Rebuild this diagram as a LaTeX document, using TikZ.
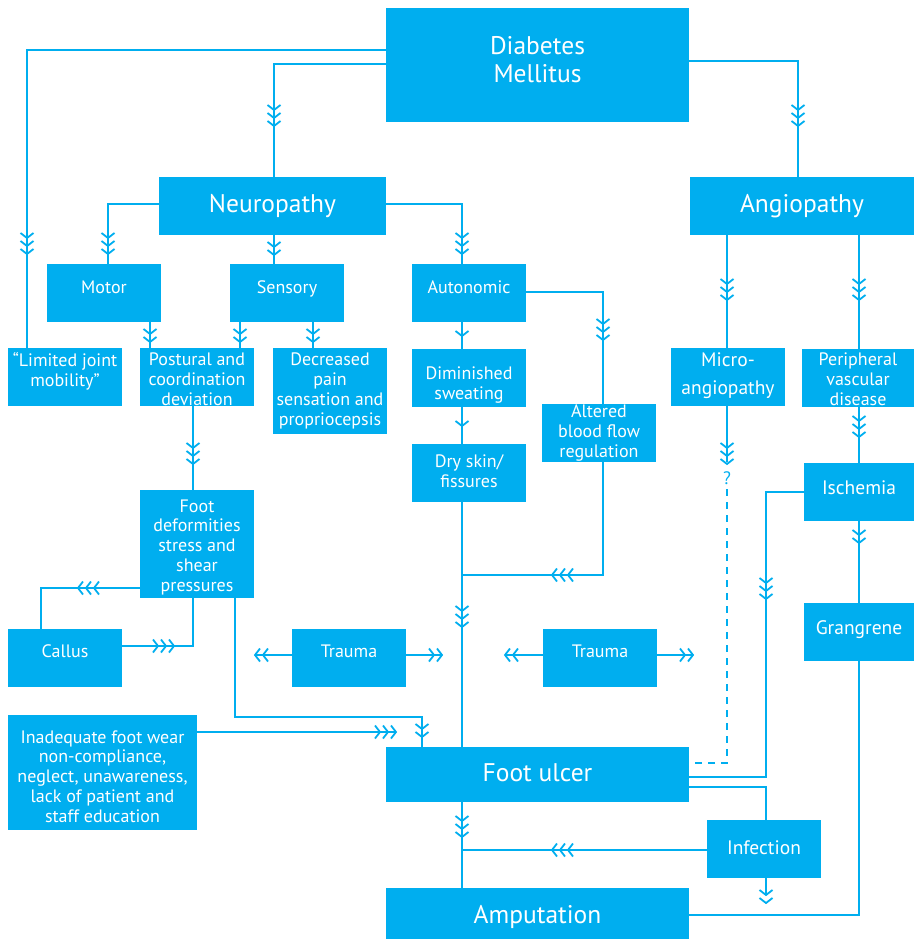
\documentclass[tikz,border=0pt]{standalone}
\usepackage{fontspec}
\setmainfont{PT Sans}
\usetikzlibrary{fit}
\definecolor{dcyan}{RGB}{0,174,239}
\newcommand\fsm{\fontsize{18}{19.7}\selectfont}
\newcommand\fmd{\fontsize{19.5}{21}\selectfont}
\newcommand\fbg{\fontsize{25.5}{28}\selectfont}
\tikzset{
  box/.style={fill=dcyan, draw=none, inner sep=0pt},
  ln/.style={draw=dcyan, line width=1.4pt},
  dln/.style={ln, dash pattern=on 7pt off 6pt},
  % multi-line texts sit on the baseline of their last line
  tsm/.style={text=white, font=\fsm, align=center, inner sep=0pt, anchor=base},
  tmd/.style={tsm, font=\fmd},
  tbg/.style={tsm, font=\fbg},
  chevs/.pic={\foreach \k in {1,...,#1}{\draw[dcyan, line width=1.8pt] (-6.5,{(\k-1)*8-5}) -- (0,{(\k-1)*8}) -- (6.5,{(\k-1)*8-5});}},
}
\begin{document}
\begin{tikzpicture}[x=1pt, y=-1pt]
\useasboundingbox (0,0) rectangle (915,939);

% boxes
\node[box, fit={(386,8) (689,122)}] (dm) {};
\node[box, fit={(159,177) (386,235)}] (neuro) {};
\node[box, fit={(690,177) (914,235)}] (angio) {};
\node[box, fit={(47,264) (161,322)}] (motor) {};
\node[box, fit={(230,264) (344,322)}] (sens) {};
\node[box, fit={(412,264) (526,322)}] (auto) {};
\node[box, fit={(8,348) (122,406)}] (ljm) {};
\node[box, fit={(140,348) (254,406)}] (post) {};
\node[box, fit={(273,348) (387,434)}] (decr) {};
\node[box, fit={(412,349) (526,407)}] (dimin) {};
\node[box, fit={(412,444) (526,502)}] (dry) {};
\node[box, fit={(542,404) (656,462)}] (alt) {};
\node[box, fit={(671,348) (785,406)}] (micro) {};
\node[box, fit={(802,349) (914,407)}] (pvd) {};
\node[box, fit={(804,463) (914,521)}] (isch) {};
\node[box, fit={(804,603) (914,661)}] (gang) {};
\node[box, fit={(140,490) (254,598)}] (fd) {};
\node[box, fit={(8,629) (122,687)}] (callus) {};
\node[box, fit={(292,629) (406,687)}] (tr1) {};
\node[box, fit={(543,629) (657,687)}] (tr2) {};
\node[box, fit={(8,715) (197,830)}] (inad) {};
\node[box, fit={(386,747) (689,802)}] (fu) {};
\node[box, fit={(707,820) (821,878)}] (inf) {};
\node[box, fit={(386,888) (689,939)}] (amp) {};

% box texts
\node[tbg] (dm-t) at (dm.center |- 0,83) {Diabetes\\Mellitus};
\node[tbg] (neuro-t) at (neuro.center |- 0,212) {Neuropathy};
\node[tbg] (angio-t) at (angio.center |- 0,212) {Angiopathy};
\node[tsm] (motor-t) at (motor.center |- 0,293) {Motor};
\node[tsm] (sens-t) at (sens.center |- 0,293) {Sensory};
\node[tsm] (auto-t) at (auto.center |- 0,293) {Autonomic};
\node[tsm] (ljm-t) at (ljm.center |- 0,386) {“Limited joint\\mobility”};
\node[tsm] (post-t) at (post.center |- 0,405) {Postural and\\coordination\\deviation};
\node[tsm] (decr-t) at (decr.center |- 0,425) {Decreased\\pain\\sensation and\\propriocepsis};
\node[tsm] (dimin-t) at (dimin.center |- 0,399) {Diminished\\sweating};
\node[tsm] (dry-t) at (dry.center |- 0,487) {Dry skin/\\fissures};
\node[tsm] (alt-t) at (alt.center |- 0,457) {Altered\\blood flow\\regulation};
\node[tmd] (micro-t) at (micro.center |- 0,394) {Micro-\\[7pt]angiopathy};
\node[tsm] (pvd-t) at (pvd.center |- 0,405) {Peripheral\\vascular\\disease};
\node[tmd] (isch-t) at (isch.center |- 0,494) {Ischemia};
\node[tmd] (gang-t) at (gang.center |- 0,634) {Grangrene};
\node[tsm] (fd-t) at (fd.center |- 0,591) {Foot\\deformities\\stress and\\shear\\pressures};
\node[tsm] (callus-t) at (callus.center |- 0,657) {Callus};
\node[tsm] (tr1-t) at (tr1.center |- 0,657) {Trauma};
\node[tsm] (tr2-t) at (tr2.center |- 0,657) {Trauma};
\node[tsm] (inad-t) at (inad.center |- 0,822) {Inadequate foot wear\\non-compliance,\\neglect, unawareness,\\lack of patient and\\staff education};
\node[tbg] (fu-t) at (fu.center |- 0,781) {Foot ulcer};
\node[tmd] (inf-t) at (inf.center |- 0,854) {Infection};
\node[tbg] (amp-t) at (amp.center |- 0,923) {Amputation};

% free ends of open connectors
\coordinate (inad-end) at (396,732);
\coordinate (tr1-l) at (255,655);
\coordinate (tr1-r) at (442,655);
\coordinate (tr2-l) at (505,655);
\coordinate (tr2-r) at (693,655);
\coordinate (alt-join) at (462,575);
\coordinate (inf-join) at (462,850);
\coordinate (inf-end) at (766,895);
\coordinate (micro-end) at (727,462);
\coordinate (dash-start) at (727,489);

% connectors from Diabetes Mellitus
\draw[ln] (dm.west |- 0,50) -| (ljm.north -| 27,0);
\draw[ln] (dm.west |- 0,64) -| (neuro.north -| 274,0);
\draw[ln] (dm.east |- 0,61) -| (angio.north -| 798,0);
\pic at (27,238) {chevs=3};
\pic at (274,110) {chevs=3};
\pic at (798,110) {chevs=3};

% neuropathy branches
\draw[ln] (neuro.west |- 0,204) -| (motor.north -| 108,0);
\draw[ln] (neuro.south -| 274,0) -- (sens.north -| 274,0);
\draw[ln] (neuro.east |- 0,204) -| (auto.north -| 462,0);
\pic at (108,238) {chevs=3};
\pic at (274,247) {chevs=2};
\pic at (462,238) {chevs=3};

\draw[ln] (motor.south -| 150,0) -- (post.north -| 150,0);
\draw[ln] (sens.south -| 240,0) -- (post.north -| 240,0);
\draw[ln] (sens.south -| 313,0) -- (decr.north -| 313,0);
\pic at (150,334) {chevs=2};
\pic at (240,334) {chevs=2};
\pic at (313,334) {chevs=2};

% autonomic chain
\draw[ln] (auto.south -| 462,0) -- (dimin.north -| 462,0);
\draw[ln] (dimin.south -| 462,0) -- (dry.north -| 462,0);
\draw[ln] (auto.east |- 0,292) -| (alt.north -| 603,0);
\draw[ln] (dry.south -| 462,0) -- (fu.north -| 462,0);
\draw[ln] (alt.south -| 603,0) |- (alt-join);
\pic at (462,336) {chevs=1};
\pic at (462,426) {chevs=1};
\pic at (603,324) {chevs=3};
\pic at (462,611) {chevs=3};
\pic[rotate=-90] at (568,575) {chevs=3};

% postural, deformities, callus
\draw[ln] (post.south -| 193,0) -- (fd.north -| 193,0);
\draw[ln] (fd.west |- 0,588) -| (callus.north -| 41,0);
\draw[ln] (callus.east |- 0,646) -| (fd.south -| 193,0);
\draw[ln] (fd.south -| 235,0) |- (422,717) -- (fu.north -| 422,0);
\pic at (193,448) {chevs=3};
\pic[rotate=-90] at (94,588) {chevs=3};
\pic[rotate=90] at (158,646) {chevs=3};
\pic at (422,729) {chevs=2};

% inadequate foot wear
\draw[ln] (inad.east |- 0,732) -- (inad-end);
\pic[rotate=90] at (380,732) {chevs=3};

% trauma
\draw[ln] (tr1.west |- 0,655) -- (tr1-l);
\draw[ln] (tr1.east |- 0,655) -- (tr1-r);
\draw[ln] (tr2.west |- 0,655) -- (tr2-l);
\draw[ln] (tr2.east |- 0,655) -- (tr2-r);
\pic[rotate=-90] at (263,655) {chevs=2};
\pic[rotate=90] at (434,655) {chevs=2};
\pic[rotate=-90] at (513,655) {chevs=2};
\pic[rotate=90] at (685,655) {chevs=2};

% angiopathy branches
\draw[ln] (angio.south -| 727,0) -- (micro.north -| 727,0);
\draw[ln] (angio.south -| 859,0) -- (pvd.north -| 859,0);
\pic at (727,284) {chevs=3};
\pic at (859,284) {chevs=3};

\draw[ln] (micro.south -| 727,0) -- (micro-end);
\pic at (727,448) {chevs=3};
\node[text=dcyan, font=\fsm, inner sep=0pt] (qmark) at (727,478) {?};
\draw[dln] (dash-start) |- (fu.east |- 0,763);

\draw[ln] (pvd.south -| 859,0) -- (isch.north -| 859,0);
\draw[ln] (isch.south -| 859,0) -- (gang.north -| 859,0);
\pic at (859,421) {chevs=3};
\pic at (859,535) {chevs=2};

\draw[ln] (isch.west |- 0,492) -| (766,777) -- (fu.east |- 0,777);
\pic at (766,583) {chevs=3};

% foot ulcer, infection, amputation
\draw[ln] (fu.east |- 0,787) -| (inf.north -| 766,0);
\draw[ln] (inf.west |- 0,850) -- (inf-join);
\pic[rotate=-90] at (568,850) {chevs=3};
\draw[ln] (inf.south -| 766,0) -- (inf-end);
\pic at (766,895) {chevs=2};
\draw[ln] (fu.south -| 462,0) -- (amp.north -| 462,0);
\pic at (462,821) {chevs=3};
\draw[ln] (gang.south -| 859,0) |- (amp.east |- 0,915);
\end{tikzpicture}
\end{document}
